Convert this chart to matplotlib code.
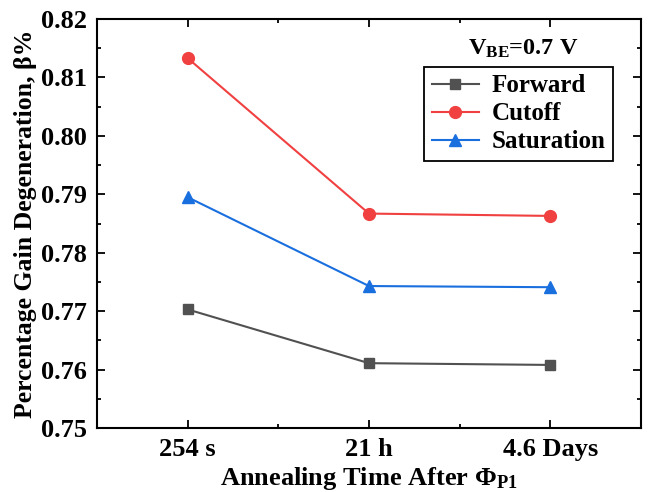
import matplotlib
matplotlib.use('Agg')
import matplotlib.pyplot as plt
from matplotlib.ticker import MultipleLocator, AutoMinorLocator, FormatStrFormatter

plt.rcParams['font.family'] = ['Liberation Serif', 'DejaVu Serif']
plt.rcParams['font.weight'] = 'bold'
plt.rcParams['mathtext.fontset'] = 'custom'
plt.rcParams['mathtext.rm'] = 'Liberation Serif:bold'
plt.rcParams['mathtext.it'] = 'Liberation Serif:bold'
plt.rcParams['mathtext.bf'] = 'Liberation Serif:bold'

# Annealing times and gain degradation for each bias condition
times = ['254 s', '21 h', '4.6 Days']
forward = [0.7703, 0.7611, 0.7608]
cutoff = [0.8133, 0.7867, 0.7863]
saturation = [0.7895, 0.7743, 0.7741]

x = list(range(len(times)))

fig = plt.figure(figsize=(6.49, 4.92), dpi=100)
ax = fig.add_axes([0.1495, 0.130, 0.838, 0.8314])

ax.plot(x, forward, color='#515151', marker='s', markersize=7.5, lw=1.5, label='Forward')
ax.plot(x, cutoff, color='#F14040', marker='o', markersize=8.5, lw=1.5, label='Cutoff')
ax.plot(x, saturation, color='#1A6FDF', marker='^', markersize=9, lw=1.5, label='Saturation')

ax.set_xlim(-0.5, 2.5)
ax.set_ylim(0.75, 0.82)
ax.set_xticks(x)
ax.set_xticklabels(times)
ax.xaxis.set_minor_locator(MultipleLocator(0.5))
ax.yaxis.set_major_locator(MultipleLocator(0.01))
ax.yaxis.set_minor_locator(AutoMinorLocator(2))
ax.yaxis.set_major_formatter(FormatStrFormatter('%.2f'))

ax.tick_params(which='both', direction='in', top=True, right=True, width=1.3)
ax.tick_params(which='major', length=6, labelsize=19, pad=7)
ax.tick_params(which='minor', length=3)
for s in ax.spines.values():
    s.set_linewidth(1.5)

ax.set_xlabel('Annealing Time After $\\Phi_{P1}$', fontsize=19, fontweight='bold', labelpad=3)
ax.set_ylabel('Percentage Gain Degeneration, β%', fontsize=18.5, fontweight='bold', labelpad=3)

leg = ax.legend(loc='upper right', bbox_to_anchor=(0.9485, 0.883), fontsize=18, frameon=True,
                fancybox=False, edgecolor='black', framealpha=1, handlelength=1.9,
                borderpad=0.3, labelspacing=0.2, handletextpad=0.5, borderaxespad=0)
leg.get_frame().set_linewidth(1.3)

ax.text(0.783, 0.927, '$\\mathregular{V_{BE}}$=0.7 V', transform=ax.transAxes,
        fontsize=17.5, fontweight='bold', ha='center', va='center')

fig.savefig('out.png', dpi=100)
